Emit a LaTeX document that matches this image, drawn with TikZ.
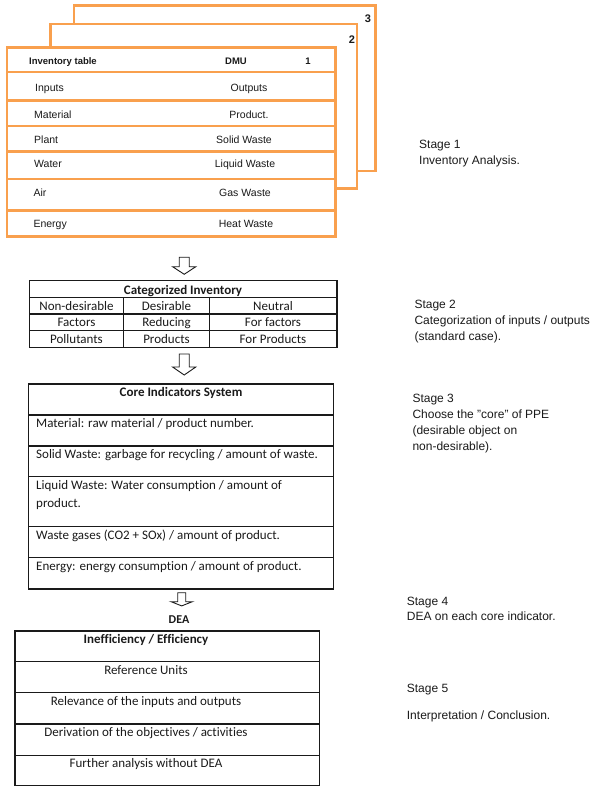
\documentclass[tikz,border=0pt]{standalone}
\usepackage{fontspec}
\setmainfont{Liberation Sans}
\newfontfamily\calfont[Ligatures={NoCommon}]{Carlito}
\definecolor{org}{HTML}{F9A04E}
\definecolor{ink}{HTML}{1A1A1A}
\begin{document}
\begin{tikzpicture}[x=1pt,y=-1pt,
  stg/.style={anchor=base west, inner sep=0, text=ink, font=\fontsize{12}{14}\selectfont},
  inv/.style={anchor=base west, inner sep=0, text=ink, font=\fontsize{10.5}{12}\selectfont},
  invc/.style={anchor=base, inner sep=0, text=ink, font=\fontsize{10.5}{12}\selectfont},
  invb/.style={anchor=base, inner sep=0, text=ink, font=\bfseries\fontsize{9.5}{11}\selectfont},
  calc/.style={anchor=base, inner sep=0, text=ink, font=\calfont\fontsize{13}{15}\selectfont},
  call/.style={anchor=base west, inner sep=0, text=ink, font=\calfont\fontsize{13}{15}\selectfont},
  calb/.style={anchor=base, inner sep=0, text=ink, font=\calfont\bfseries\fontsize{13}{15}\selectfont},
  sheet/.style={draw=org, line width=2.6pt, fill=white},
  orow/.style={draw=org, line width=2.6pt},
  tbl/.style={draw=ink, line width=1.1pt},
  harrow/.style={draw=ink, line width=0.9pt, fill=white, line join=miter}
]
\useasboundingbox (0,0) rectangle (600,791);
% ---------- Stage 1: stacked inventory sheets ----------
\draw[sheet] (74,5.5) rectangle (375.5,171);
\node[invb, font=\bfseries\fontsize{11}{12}\selectfont] (n3) at (368,23) {3};
\draw[sheet] (50.7,24) rectangle (357,188.7);
\node[invb, font=\bfseries\fontsize{11}{12}\selectfont] (n2) at (352,44) {2};
\draw[sheet] (7,47.3) rectangle (335.7,236.7);
\foreach \yy in {72,100.7,126,151.7,179,210.7}
  \draw[orow] (7,\yy) -- (335.7,\yy);
\node[invb, anchor=base west] (invt) at (29,65) {Inventory table};
\node[invb] (dmu) at (236,65) {DMU};
\node[invb] (n1) at (308,65) {1};
\node[inv] (inp) at (35,91.5) {Inputs};
\node[invc] (outp) at (249,91.5) {Outputs};
\node[inv] (mat) at (34,118.8) {Material};
\node[invc] (prod) at (249,118.8) {Product.};
\node[inv] (plant) at (34,143.1) {Plant};
\node[invc] (solid) at (244,143.1) {Solid Waste};
\node[inv] (water) at (34,167.8) {Water};
\node[invc] (liquid) at (245,167.8) {Liquid Waste};
\node[inv] (air) at (33.3,196.1) {Air};
\node[invc] (gas) at (245,196.1) {Gas Waste};
\node[inv] (energy) at (33.3,227.1) {Energy};
\node[invc] (heat) at (246,227.1) {Heat Waste};
\node[stg] (s1a) at (419,148.6) {Stage 1};
\node[stg] (s1b) at (419,165) {Inventory Analysis.};
% ---------- arrow 1 ----------
\draw[harrow] (179.2,257.3) -- (189.2,257.3) -- (189.2,266.7) -- (195.8,266.7) -- (184.2,274.3)
  -- (172.6,266.7) -- (179.2,266.7) -- cycle;
% ---------- Stage 2: categorized inventory ----------
\draw[tbl] (29.3,280.7) rectangle (337,347.3);
\foreach \yy in {297.3,314,330.7}
  \draw[tbl] (29.3,\yy) -- (337,\yy);
\draw[tbl] (123.3,297.3) -- (123.3,347.3);
\draw[tbl] (209.3,297.3) -- (209.3,347.3);
\node[calb] (cath) at (183,294.3) {Categorized Inventory};
\node[calc] (c11) at (76.5,310) {Non-desirable};
\node[calc] (c12) at (166.5,310) {Desirable};
\node[calc] (c13) at (273,310) {Neutral};
\node[calc] (c21) at (76.5,326.5) {Factors};
\node[calc] (c22) at (166.5,326.5) {Reducing};
\node[calc] (c23) at (273,326.5) {For factors};
\node[calc] (c31) at (76.5,343.2) {Pollutants};
\node[calc] (c32) at (166.5,343.2) {Products};
\node[calc] (c33) at (273,343.2) {For Products};
\node[stg] (s2a) at (414.3,308.6) {Stage 2};
\node[stg] (s2b) at (414.3,324.6) {Categorization of inputs / outputs};
\node[stg] (s2c) at (414.3,340.3) {(standard case).};
% ---------- arrow 2 ----------
\draw[harrow] (179.2,354) -- (189.2,354) -- (189.2,367) -- (195.8,367) -- (184.2,375)
  -- (172.6,367) -- (179.2,367) -- cycle;
% ---------- Stage 3: core indicators ----------
\draw[tbl] (28.7,384) rectangle (333.3,589);
\foreach \yy in {415,446,476.7,526.7,557.7}
  \draw[tbl] (28.7,\yy) -- (333.3,\yy);
\node[calb] (coreh) at (181,396.5) {Core Indicators System};
\node[call] (r1) at (36,427.5) {Material: raw material / product number.};
\node[call] (r2) at (36,458.2) {Solid Waste: garbage for recycling / amount of waste.};
\node[call] (r3) at (36,489.2) {Liquid Waste: Water consumption / amount of};
\node[call] (r3b) at (36,507.5) {product.};
\node[call] (r4) at (36,539.2) {Waste gases (CO2 + SOx) / amount of product.};
\node[call] (r5) at (36,570.9) {Energy: energy consumption / amount of product.};
\node[stg] (s3a) at (412.3,402.6) {Stage 3};
\node[stg] (s3b) at (412.3,418.6) {Choose the "core" of PPE};
\node[stg] (s3c) at (412.3,434.6) {(desirable object on};
\node[stg] (s3d) at (412.3,450.6) {non-desirable).};
% ---------- arrow 3 ----------
\draw[harrow] (177.7,592.7) -- (185.7,592.7) -- (185.7,601.7) -- (192.3,601.7) -- (181.7,605.9)
  -- (171.1,601.7) -- (177.7,601.7) -- cycle;
% ---------- Stage 4/5: DEA ----------
\node[calb, font=\calfont\bfseries\fontsize{12}{14}\selectfont] (dea) at (179,623) {DEA};
\draw[tbl] (15,631) rectangle (319.3,785.7);
\foreach \yy in {661.7,692.7,724,755.7}
  \draw[tbl] (15,\yy) -- (319.3,\yy);
\node[calb] (deah) at (146,643.5) {Inefficiency / Efficiency};
\node[calc] (d1) at (146,674.5) {Reference Units};
\node[calc] (d2) at (146,705.2) {Relevance of the inputs and outputs};
\node[calc] (d3) at (146,736.5) {Derivation of the objectives / activities};
\node[calc] (d4) at (146,767.5) {Further analysis without DEA};
\node[stg] (s4a) at (406.7,605.3) {Stage 4};
\node[stg] (s4b) at (406.7,620.3) {DEA on each core indicator.};
\node[stg] (s5a) at (406.7,692) {Stage 5};
\node[stg] (s5b) at (406.7,719.3) {Interpretation / Conclusion.};
\end{tikzpicture}
\end{document}
